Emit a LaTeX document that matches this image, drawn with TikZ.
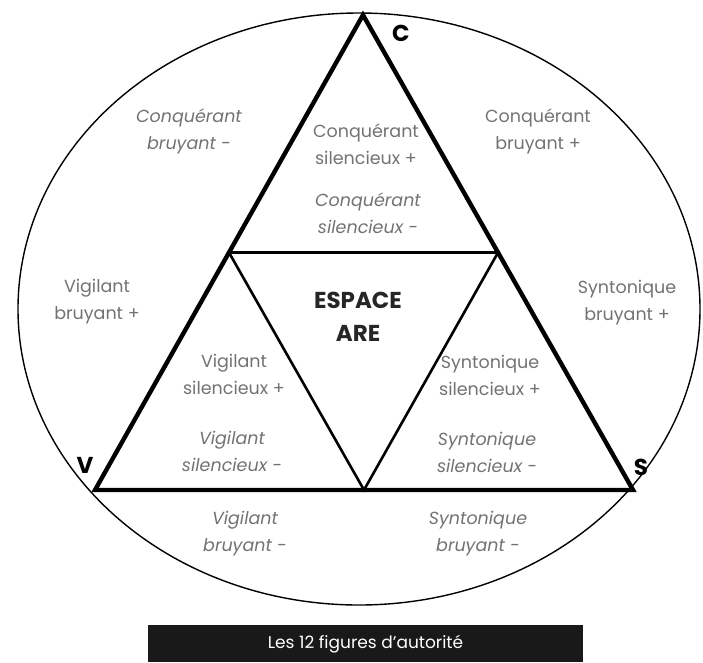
\documentclass[tikz,border=0pt]{standalone}
\usepackage{fontspec}
\setmainfont{Poppins}
\usetikzlibrary{calc}
\begin{document}
\begin{tikzpicture}[x=1pt,y=-1pt,
  lbl/.style={text=black!55,font=\fontsize{17.5}{27}\selectfont,align=center,inner sep=0pt},
  lbli/.style={lbl,font=\fontsize{17.5}{27}\selectfont\itshape},
  vtx/.style={font=\fontsize{23}{24}\selectfont\bfseries,inner sep=0pt},
  outer/.style={line width=4.4pt,line join=miter},
  inner/.style={line width=2.6pt}]
\useasboundingbox (0,0) rectangle (703,662);
\fill[white] (0,0) rectangle (703,662);
\draw[line width=1.4pt] (359,309) ellipse [x radius=341, y radius=296];
\coordinate (C) at (363,15);
\coordinate (V) at (95,490);
\coordinate (S) at (633,490);
\coordinate (L) at ($(C)!0.5!(V)$);
\coordinate (R) at ($(C)!0.5!(S)$);
\coordinate (B) at ($(V)!0.5!(S)$);
\draw[inner] (L) -- (R) -- (B) -- cycle;
\draw[outer] (C) -- (V) -- (S) -- cycle;
\node[vtx] (c) at (401,33) {C};
\node[vtx] (v) at (85,465) {V};
\node[vtx] (s) at (641,467) {S};
\node[lbl,font=\fontsize{23}{33}\selectfont\bfseries,text=black!85] (e) at (358,317) {ESPACE\\ARE};
\node[lbli] (cbm) at (189,131) {Conquérant\\bruyant -};
\node[lbl] (cbp) at (538,131) {Conquérant\\bruyant +};
\node[lbl] (csp) at (366,144) {Conquérant\\silencieux +};
\node[lbli] (csm) at (368,213) {Conquérant\\silencieux -};
\node[lbl] (vbp) at (97,302) {Vigilant\\bruyant +};
\node[lbl] (sbp) at (627,303) {Syntonique\\bruyant +};
\node[lbl] (vsp) at (234,374) {Vigilant\\silencieux +};
\node[lbli] (vsm) at (232,451) {Vigilant\\silencieux -};
\node[lbl] (ssp) at (490,375) {Syntonique\\silencieux +};
\node[lbli] (ssm) at (487,452) {Syntonique\\silencieux -};
\node[lbli] (vbm) at (245,534) {Vigilant\\bruyant -};
\node[lbli] (sbm) at (478,534) {Syntonique\\bruyant -};
\fill[black!90] (148,625) rectangle (583,662);
\node[text=white,font=\fontsize{17}{18}\selectfont] (t) at (365.5,644) {Les 12 figures d’autorité};
\end{tikzpicture}
\end{document}
